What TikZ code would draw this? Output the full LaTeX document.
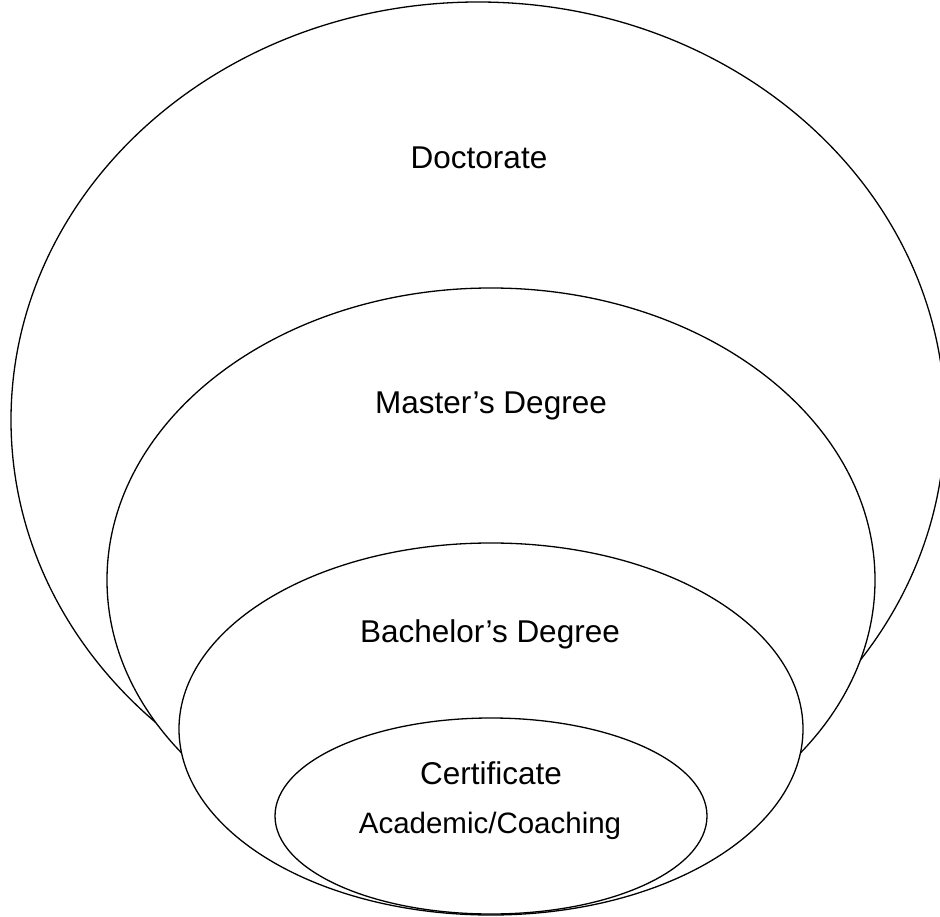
\documentclass[tikz,border=0pt]{standalone}
\usepackage{fontspec}
\setmainfont{Liberation Sans}
\usetikzlibrary{shapes.geometric}
\begin{document}
\begin{tikzpicture}[x=1pt,y=-1pt,
  ring/.style={draw=black, line width=1.3pt, fill=white, ellipse, inner sep=0pt},
  lbl/.style={font=\fontsize{31.5}{36}\selectfont, inner sep=0pt, anchor=center},
  sublbl/.style={font=\fontsize{29.5}{34}\selectfont, inner sep=0pt, anchor=center}]
\useasboundingbox (0,0) rectangle (940,917);
\node[ring, minimum width=934pt, minimum height=836pt] (doc) at (478,420) {};
\node[ring, minimum width=768pt, minimum height=584pt] (mas) at (491,580) {};
\node[ring, minimum width=624pt, minimum height=372pt] (bac) at (491,729) {};
\node[ring, minimum width=432pt, minimum height=196pt] (cer) at (491,816) {};
\node[lbl] (tdoc) at (479,158) {Doctorate};
\node[lbl] (tmas) at (491,406) {Master’s Degree};
\node[lbl] (tbac) at (490,634) {Bachelor’s Degree};
\node[lbl] (tcer) at (491,773) {Certificate};
\node[sublbl] (tac) at (490,826) {Academic/Coaching};
\end{tikzpicture}
\end{document}
